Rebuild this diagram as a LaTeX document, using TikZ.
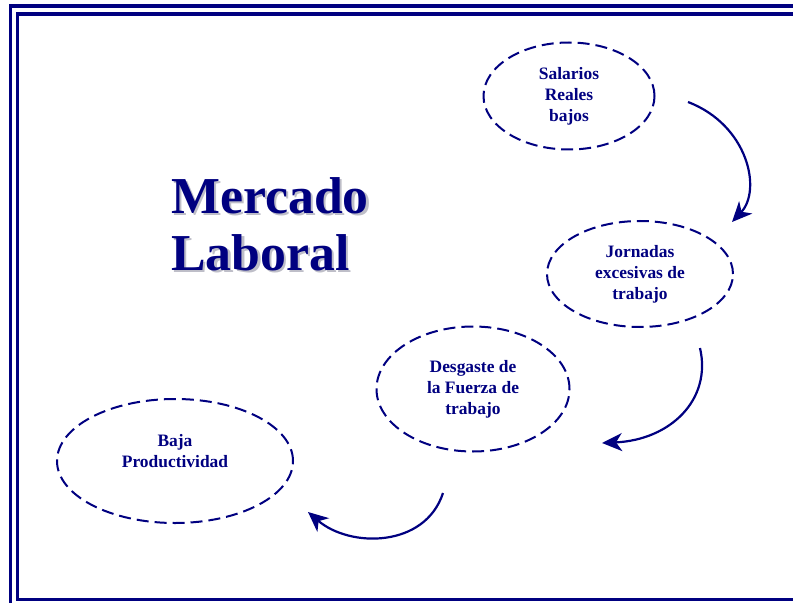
\documentclass[tikz,border=0pt]{standalone}
\usepackage{fontspec}
\setmainfont{Liberation Serif}
\usetikzlibrary{arrows.meta,shapes.geometric}
\usetikzlibrary{positioning}
\definecolor{azul}{RGB}{0,0,128}
\definecolor{sombra}{RGB}{190,190,200}
\tikzset{
    idea/.style={
           ellipse,
           draw=azul, line width=2bp,
           dash pattern=on 12bp off 6bp,
           inner sep=0pt,
           text=azul,
           align=center,
           font=\fontsize{17.5}{21}\selectfont\bfseries,
           },
}
\tikzset{
    flecha/.style={
           draw=azul, line width=2.2bp,
           -{Stealth[length=20bp,width=18bp,inset=6bp]},
           },
}
\tikzset{
    titulo/.style={
           font=\fontsize{52}{57}\selectfont\bfseries,
           text=azul,
           align=left,
           anchor=base west,
           inner sep=0pt,
           },
}
\tikzset{
    marco/.style={
           draw=azul, line width=3.2bp,
           },
}

\begin{document}
\begin{tikzpicture}[x=1bp,y=-1bp]
\useasboundingbox (0,0) rectangle (793,603);
% marco doble
\draw[marco] (10.5,610) -- (10.5,6) -- (800,6);
\draw[marco] (800,599.5) -- (17.5,599.5) -- (17.5,14) -- (800,14);
% titulo
\node[titulo,text=sombra] (sombra) at (173.5,272.5) {Mercado\\Laboral};
\node[titulo] (tit) at (171,270) {Mercado\\Laboral};
% ideas
\node[idea,minimum width=171bp,minimum height=107bp] (sal) at (569,96) {Salarios\\Reales\\bajos};
\node[idea,minimum width=186bp,minimum height=106bp] (jor) at (640,274) {Jornadas\\excesivas de\\trabajo};
\node[idea,minimum width=193bp,minimum height=125bp] (des) at (473,389) {Desgaste de\\la Fuerza de\\trabajo};
\node[idea,minimum width=236bp,minimum height=124bp] (baj) at (175,461) {Baja\\Productividad\\\mbox{}};
% flechas
\coordinate (s1) at (688,102);
\coordinate (t1) at (732,222);
\coordinate (s2) at (700,348);
\coordinate (t2) at (602,443);
\coordinate (s3) at (443,493);
\coordinate (t3) at (308,512);
\draw[flecha] (s1) .. controls (748,125) and (762,190) .. (t1);
\draw[flecha] (s2) .. controls (712,400) and (670,440) .. (t2);
\draw[flecha] (s3) .. controls (425,548) and (350,548) .. (t3);
\end{tikzpicture}
\end{document}
